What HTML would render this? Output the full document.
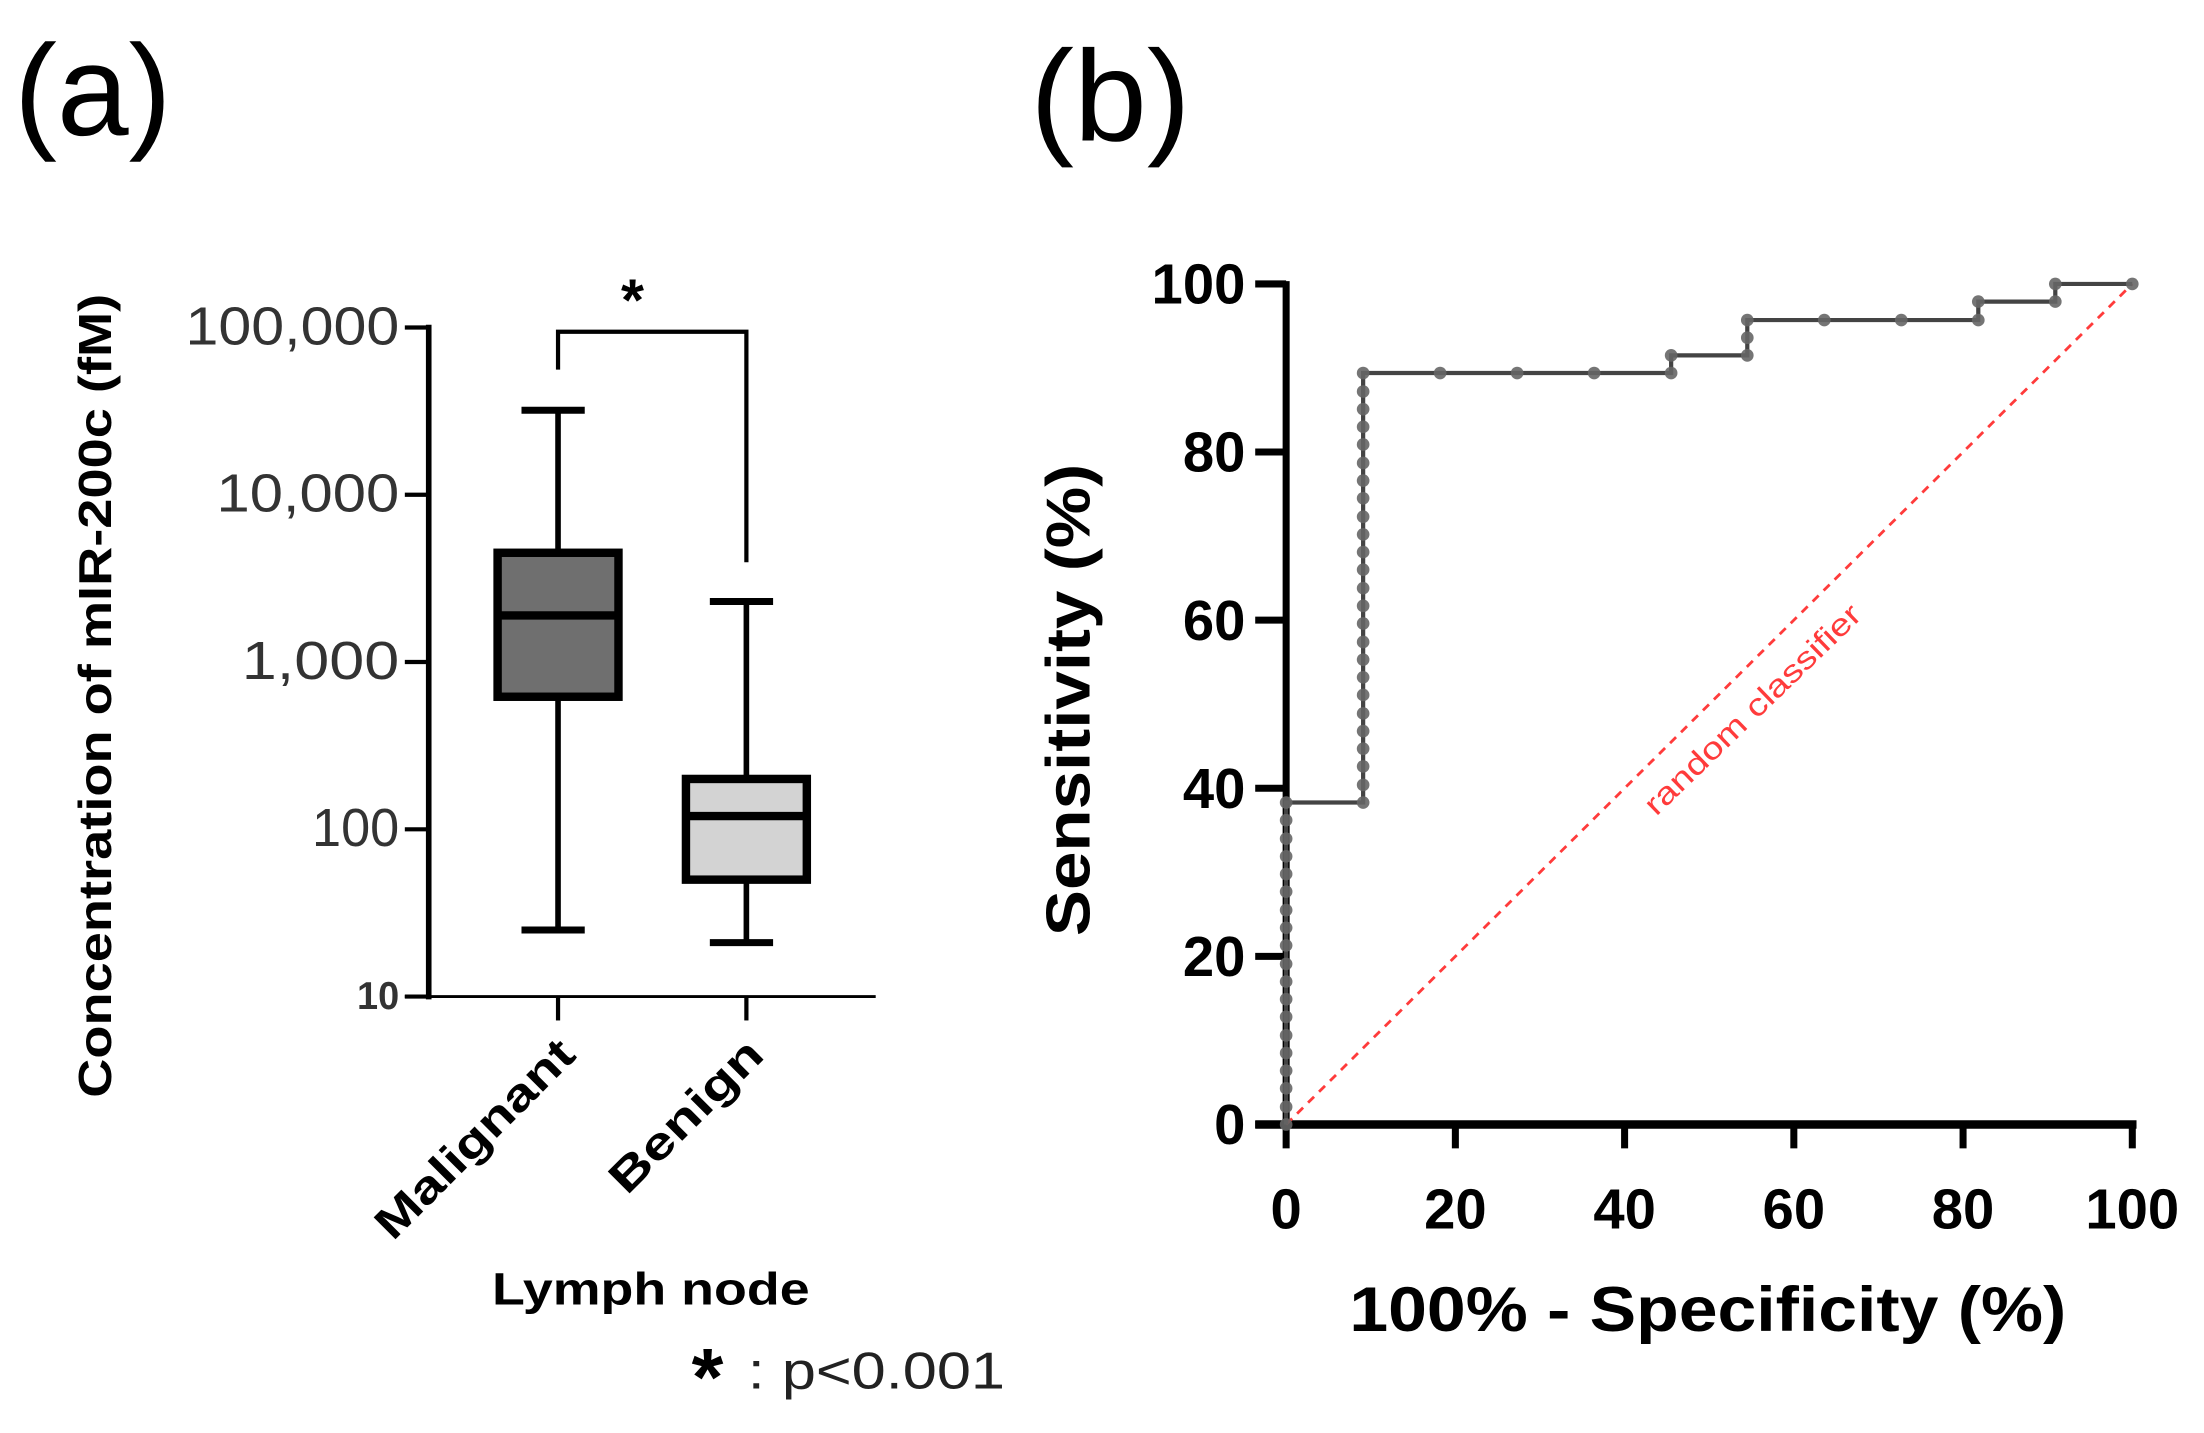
<!DOCTYPE html>
<html><head><meta charset="utf-8"><style>
html,body{margin:0;padding:0;background:#fff;}
svg{display:block;font-family:"Liberation Sans",sans-serif;}
</style></head><body>
<svg id="fig" width="2204" height="1433" viewBox="0 0 1568 1019.5" xmlns="http://www.w3.org/2000/svg">
<rect width="1568" height="1020" fill="#fff"/>
<text x="10" y="96" font-size="92" textLength="112" lengthAdjust="spacingAndGlyphs">(a)</text>
<text x="733" y="100" font-size="92" textLength="114" lengthAdjust="spacingAndGlyphs">(b)</text>
<g id="pa"></g>
<g id="pb"></g>
</svg>
<script>
// ---- panel (a) data ----
const boxCategories = ["Malignant", "Benign"];
const boxMin = [25, 21];
const boxQ1 = [620, 50];
const boxMedian = [1900, 120];
const boxQ3 = [4500, 200];
const boxMax = [32000, 2300];
const boxFills = ["#6f6f6f", "#d3d3d3"];
const logTicks = [10, 100, 1000, 10000, 100000];
const logTickLabels = ["10", "100", "1,000", "10,000", "100,000"];
// ---- panel (b) data ----
const rocX = [0,0,0,0,0,0,0,0,0,0,0,0,0,0,0,0,0,0,0,
 9.1,9.1,9.1,9.1,9.1,9.1,9.1,9.1,9.1,9.1,9.1,9.1,9.1,9.1,9.1,9.1,9.1,9.1,9.1,9.1,9.1,9.1,9.1,9.1,9.1,
 18.2,27.3,36.4,45.5,45.5,54.5,54.5,54.5,63.6,72.7,81.8,81.8,90.9,90.9,100];
const rocY = [0,2.1,4.3,6.4,8.5,10.6,12.8,14.9,17.0,19.1,21.3,23.4,25.5,27.7,29.8,31.9,34.0,36.2,38.3,
 38.3,40.4,42.6,44.7,46.8,48.9,51.1,53.2,55.3,57.4,59.6,61.7,63.8,66.0,68.1,70.2,72.3,74.5,76.6,78.7,80.9,83.0,85.1,87.2,89.4,
 89.4,89.4,89.4,89.4,91.5,91.5,93.6,95.7,95.7,95.7,95.7,97.9,97.9,100,100];
const linTicks = [0, 20, 40, 60, 80, 100];

const NS = "http://www.w3.org/2000/svg";
function mk(parent, tag, attrs, text){const e=document.createElementNS(NS,tag);for(const k in attrs)e.setAttribute(k,attrs[k]);if(text!==undefined)e.textContent=text;parent.appendChild(e);return e;}
const SG = "spacingAndGlyphs";

// ---- panel a ----
const pa = document.getElementById("pa");
const yA = v => 709 - 119 * Math.log10(v / 10);
const xA = i => 397 + i * 134;
let ax = mk(pa,"line",{x1:305,y1:231,x2:305,y2:711,stroke:"#000","stroke-width":4});


ax = mk(pa,"line",{x1:288,y1:709,x2:623,y2:709,stroke:"#000","stroke-width":2});


const tickLens = [30, 62, 112, 130, 152];
logTicks.forEach((v,i)=>{
  const t = mk(pa,"line",{x1:288,y1:yA(v),x2:305,y2:yA(v),stroke:"#000","stroke-width":3});
  
  
  const small = i===0;
  const l = mk(pa,"text",{x:284,y:yA(v)+(small?9:12),"text-anchor":"end","font-size":small?28:38,"font-weight":small?"bold":"normal",fill:"#333",textLength:tickLens[i],lengthAdjust:SG},logTickLabels[i]);
  
  
});
const catLens = [186, 140];
boxCategories.forEach((c,i)=>{
  const x = xA(i);
  const t = mk(pa,"line",{x1:x,y1:709,x2:x,y2:726,stroke:"#000","stroke-width":3});
  
  
  const w = mk(pa,"line",{x1:x,y1:yA(boxMax[i]),x2:x,y2:yA(boxMin[i]),stroke:"#000","stroke-width":4});
  
  
  [boxMax[i],boxMin[i]].forEach(v=>{
    const cap = mk(pa,"line",{x1:x-26,y1:yA(v),x2:x+19,y2:yA(v),stroke:"#000","stroke-width":5});
    
    
  });
  const b = mk(pa,"rect",{x:x-43,y:yA(boxQ3[i]),width:86,height:yA(boxQ1[i])-yA(boxQ3[i]),fill:boxFills[i],stroke:"#000","stroke-width":6});
  
  
  const m = mk(pa,"line",{x1:x-43,y1:yA(boxMedian[i]),x2:x+43,y2:yA(boxMedian[i]),stroke:"#000","stroke-width":6});
  
  
  const lab = mk(pa,"text",{x:x+14,y:752,"text-anchor":"end","font-size":32,"font-weight":"bold",textLength:catLens[i],lengthAdjust:SG,transform:`rotate(-45 ${x+14} 752)`},c);
  
  
});
let br = mk(pa,"polyline",{points:"397,263 397,236 531,236 531,400",fill:"none",stroke:"#000","stroke-width":3});


let tx = mk(pa,"text",{x:450,y:228,"text-anchor":"middle","font-size":42,"font-weight":"bold"},"*");


tx = mk(pa,"text",{x:79,y:495,"text-anchor":"middle","font-size":33,"font-weight":"bold",textLength:572,lengthAdjust:SG,transform:"rotate(-90 79 495)"},"Concentration of mIR-200c (fM)");


tx = mk(pa,"text",{x:463,y:928,"text-anchor":"middle","font-size":32,"font-weight":"bold",textLength:226,lengthAdjust:SG},"Lymph node");


tx = mk(pa,"text",{x:492,y:1000,"font-size":58,"font-weight":"bold"},"*");


tx = mk(pa,"text",{x:532,y:988,"font-size":37,fill:"#222",textLength:183,lengthAdjust:SG},": p<0.001");



// ---- panel b ----
const pb = document.getElementById("pb");
const xB = v => 915 + v * 6.02;
const yB = v => 800 - v * 5.98;
ax = mk(pb,"line",{x1:915,y1:200,x2:915,y2:802,stroke:"#000","stroke-width":5});


ax = mk(pb,"line",{x1:893,y1:800,x2:1520,y2:800,stroke:"#000","stroke-width":6});


linTicks.forEach(v=>{
  let t = mk(pb,"line",{x1:893,y1:yB(v),x2:915,y2:yB(v),stroke:"#000","stroke-width":5});
  
  
  let l = mk(pb,"text",{x:886,y:yB(v)+14,"text-anchor":"end","font-size":40,"font-weight":"bold"},String(v));
  
  
  t = mk(pb,"line",{x1:xB(v),y1:800,x2:xB(v),y2:817,stroke:"#000","stroke-width":5});
  
  
  l = mk(pb,"text",{x:xB(v),y:874,"text-anchor":"middle","font-size":40,"font-weight":"bold"},String(v));
  
  
});
let diag = mk(pb,"line",{x1:xB(0),y1:yB(0),x2:xB(100),y2:yB(100),stroke:"#ff3b3b","stroke-width":2,"stroke-dasharray":"6 5"});


tx = mk(pb,"text",{x:1252,y:510,"text-anchor":"middle","font-size":22,fill:"#ff3b3b",textLength:205,lengthAdjust:SG,transform:"rotate(-44 1252 510)"},"random  classifier");


let pts = rocX.map((x,i)=>xB(x)+","+yB(rocY[i])).join(" ");
let roc = mk(pb,"polyline",{points:pts,fill:"none",stroke:"#444","stroke-width":3});


rocX.forEach((x,i)=>{
  const d = mk(pb,"circle",{cx:xB(x),cy:yB(rocY[i]),r:4.5,fill:"#666",opacity:0.9});
  
  
});
tx = mk(pb,"text",{x:775,y:498,"text-anchor":"middle","font-size":44,"font-weight":"bold",textLength:336,lengthAdjust:SG,transform:"rotate(-90 775 498)"},"Sensitivity (%)");


tx = mk(pb,"text",{x:1215,y:947,"text-anchor":"middle","font-size":45,"font-weight":"bold",textLength:510,lengthAdjust:SG},"100% - Specificity (%)");


</script>
</body></html>
